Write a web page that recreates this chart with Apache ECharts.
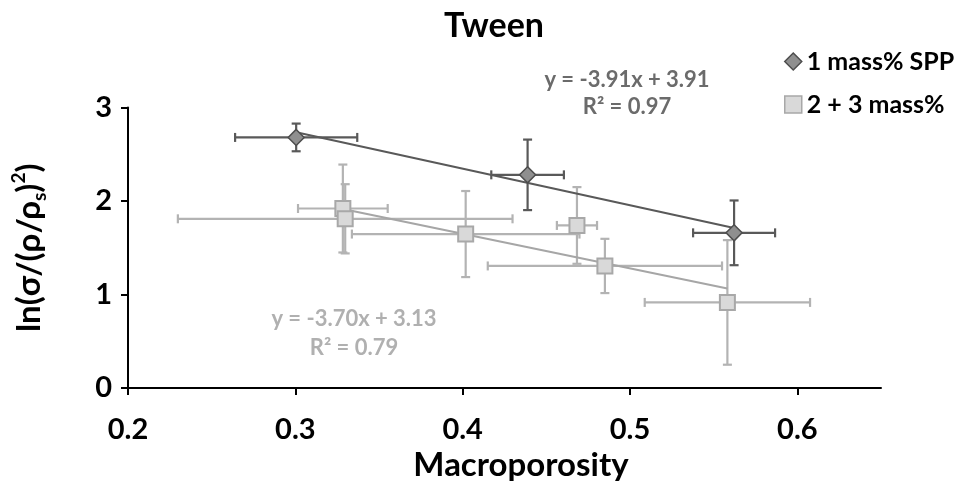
<!DOCTYPE html>
<html>
<head>
<meta charset="utf-8">
<script src="https://cdn.jsdelivr.net/npm/echarts@6/dist/echarts.min.js"></script>
<style>
  html, body { margin: 0; padding: 0; background: #fff; }
  #chart { width: 961px; height: 487px; }
</style>
</head>
<body>
<div id="chart"></div>
<script>
// Axis ticks
const xTicks = [0.2, 0.3, 0.4, 0.5, 0.6];
const yTicks = [0, 1, 2, 3];

// 1 mass% SPP: macroporosity, ln value and their errors
const sppX = [0.3005, 0.4388, 0.5622];
const sppY = [2.68, 2.28, 1.66];
const sppXErr = [0.0365, 0.0217, 0.0245];
const sppYErr = [0.148, 0.377, 0.346];

// 2 + 3 mass%
const mixX = [0.3284, 0.3298, 0.4018, 0.4683, 0.4850, 0.5582];
const mixY = [1.92, 1.81, 1.647, 1.739, 1.306, 0.916];
const mixXErr = [0.0268, 0.100, 0.068, 0.012, 0.070, 0.0494];
const mixYErr = [0.47, 0.37, 0.46, 0.41, 0.29, 0.666];

// Linear fits
const sppFit = { slope: -3.91, intercept: 3.91, r2: 0.97 };
const mixFit = { slope: -3.70, intercept: 3.13, r2: 0.79 };

const FONT = 'Lato';
const DARK = '#595959';
const DARK_FILL = '#8f8f8f';
const LIGHT = '#b3b3b3';
const LIGHT_FILL = '#d9d9d9';

function fitLine(fit, xs) {
  const lo = Math.min(...xs), hi = Math.max(...xs);
  return [[lo, fit.slope * lo + fit.intercept], [hi, fit.slope * hi + fit.intercept]];
}

function fitLabel(fit) {
  const sign = fit.intercept < 0 ? '-' : '+';
  return 'y = ' + fit.slope.toFixed(2) + 'x ' + sign + ' ' + Math.abs(fit.intercept).toFixed(2) +
    '\nR\u00b2 = ' + fit.r2.toFixed(2);
}

function errorBars(xs, ys, xe, ye, color, z) {
  return {
    type: 'custom',
    silent: true,
    clip: false,
    z: z,
    data: xs.map((x, i) => [x, ys[i], xe[i], ye[i]]),
    encode: { x: 0, y: 1 },
    renderItem(params, api) {
      const x = api.value(0), y = api.value(1), dx = api.value(2), dy = api.value(3);
      const l = api.coord([x - dx, y]), r = api.coord([x + dx, y]);
      const t = api.coord([x, y + dy]), b = api.coord([x, y - dy]);
      const cap = 4.5;
      const style = { stroke: color, lineWidth: 2.2, fill: null };
      const seg = (x1, y1, x2, y2) => ({ type: 'line', shape: { x1, y1, x2, y2 }, style });
      return {
        type: 'group',
        children: [
          seg(l[0], l[1], r[0], r[1]),
          seg(l[0], l[1] - cap, l[0], l[1] + cap),
          seg(r[0], r[1] - cap, r[0], r[1] + cap),
          seg(t[0], t[1], b[0], b[1]),
          seg(t[0] - cap, t[1], t[0] + cap, t[1]),
          seg(b[0] - cap, b[1], b[0] + cap, b[1])
        ]
      };
    }
  };
}

const chart = echarts.init(document.getElementById('chart'), null, { renderer: 'canvas' });

chart.setOption({
  animation: false,
  backgroundColor: '#fff',
  title: {
    text: 'Tween',
    left: 489, top: 4,
    textAlign: 'center',
    textStyle: { fontFamily: FONT, fontWeight: 'bold', fontSize: 34, color: '#000' }
  },
  legend: {
    orient: 'vertical',
    left: 779, top: 44,
    itemGap: 18,
    itemWidth: 17, itemHeight: 17,
    itemStyle: { borderWidth: 1.5 },
    textStyle: { fontFamily: FONT, fontWeight: 'bold', fontSize: 25, color: '#000' },
    data: [
      { name: '1 mass% SPP', icon: 'diamond' },
      { name: '2 + 3 mass%', icon: 'rect' }
    ]
  },
  grid: { left: 128, right: 80, top: 107.5, bottom: 97.5, containLabel: false },
  xAxis: {
    type: 'value',
    min: 0.2, max: 0.65, interval: 0.1,
    name: 'Macroporosity',
    nameLocation: 'middle',
    nameGap: 60,
    nameTextStyle: { fontFamily: FONT, fontWeight: 'bold', fontSize: 33, color: '#000', padding: [0, 0, 0, 33] },
    splitLine: { show: false },
    axisLine: { lineStyle: { color: '#000', width: 2 } },
    axisTick: { inside: false, length: 7, customValues: xTicks, lineStyle: { color: '#000', width: 2 } },
    axisLabel: {
      customValues: xTicks, margin: 27,
      formatter: v => v.toFixed(1),
      fontFamily: FONT, fontWeight: 'bold', fontSize: 29, color: '#000'
    }
  },
  yAxis: {
    type: 'value',
    min: 0, max: 3, interval: 1,
    name: 'ln(\u03c3/(\u03c1/\u03c1{sub|s}){sup|2})',
    nameLocation: 'middle',
    nameGap: 79,
    nameRotate: 90,
    nameTextStyle: {
      fontFamily: FONT, fontWeight: 'bold', fontSize: 33, color: '#000', lineHeight: 40,
      rich: {
        sub: { fontFamily: FONT, fontWeight: 'bold', fontSize: 19, color: '#000', verticalAlign: 'bottom', lineHeight: 40 },
        sup: { fontFamily: FONT, fontWeight: 'bold', fontSize: 19, color: '#000', verticalAlign: 'top', lineHeight: 40 }
      }
    },
    splitLine: { show: false },
    axisLine: { show: true, lineStyle: { color: '#000', width: 2 } },
    axisTick: { show: true, inside: false, length: 7, customValues: yTicks, lineStyle: { color: '#000', width: 2 } },
    axisLabel: {
      customValues: yTicks, margin: 16,
      fontFamily: FONT, fontWeight: 'bold', fontSize: 29, color: '#000'
    }
  },
  graphic: [
    {
      type: 'text', z: 100,
      style: {
        text: fitLabel(sppFit), x: 627, y: 66, textAlign: 'center',
        font: 'bold 22px ' + FONT, lineHeight: 27, fill: '#6b6b6b'
      }
    },
    {
      type: 'text', z: 100,
      style: {
        text: fitLabel(mixFit), x: 354, y: 304, textAlign: 'center',
        font: 'bold 22px ' + FONT, lineHeight: 29, fill: '#b0b0b0'
      }
    }
  ],
  series: [
    errorBars(mixX, mixY, mixXErr, mixYErr, LIGHT, 1),
    errorBars(sppX, sppY, sppXErr, sppYErr, DARK, 2),
    {
      type: 'line', data: fitLine(mixFit, mixX), symbol: 'none', z: 3, silent: true,
      lineStyle: { color: '#a6a6a6', width: 2 }
    },
    {
      type: 'line', data: fitLine(sppFit, sppX), symbol: 'none', z: 3, silent: true,
      lineStyle: { color: DARK, width: 2 }
    },
    {
      name: '2 + 3 mass%', type: 'scatter', z: 4,
      symbol: 'rect', symbolSize: 15,
      data: mixX.map((x, i) => [x, mixY[i]]),
      itemStyle: { color: LIGHT_FILL, borderColor: '#a8a8a8', borderWidth: 2, opacity: 1 }
    },
    {
      name: '1 mass% SPP', type: 'scatter', z: 5,
      symbol: 'diamond', symbolSize: 16,
      data: sppX.map((x, i) => [x, sppY[i]]),
      itemStyle: { color: DARK_FILL, borderColor: '#4d4d4d', borderWidth: 1.5, opacity: 1 }
    }
  ]
});
</script>
</body>
</html>
